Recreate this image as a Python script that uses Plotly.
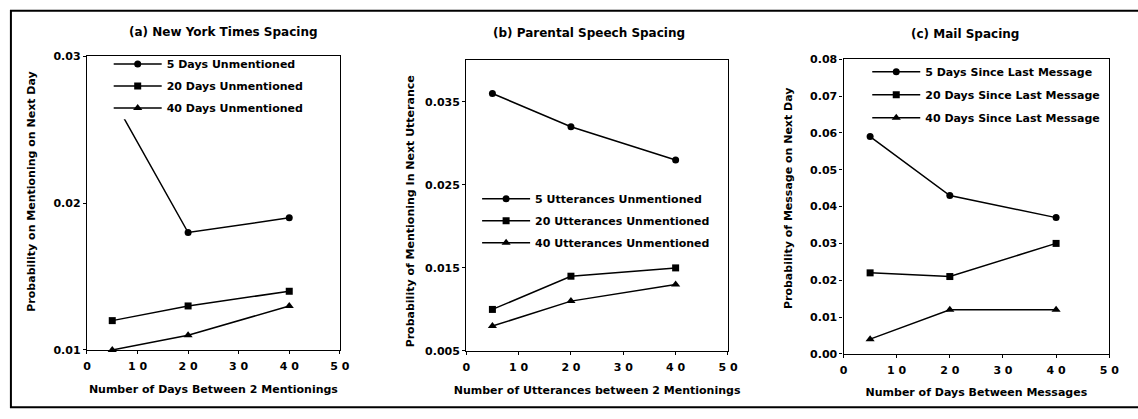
import plotly.graph_objects as go

W, H = 1138, 419

# ---------------- data ----------------
x_vals = [5, 20, 40]

# (a) New York Times Spacing
nyt_names = ["5 Days Unmentioned", "20 Days Unmentioned", "40 Days Unmentioned"]
nyt_5 = [0.0272, 0.018, 0.019]
nyt_20 = [0.012, 0.013, 0.014]
nyt_40 = [0.010, 0.011, 0.013]

# (b) Parental Speech Spacing
par_names = ["5 Utterances Unmentioned", "20 Utterances Unmentioned", "40 Utterances Unmentioned"]
par_5 = [0.036, 0.032, 0.028]
par_20 = [0.010, 0.014, 0.015]
par_40 = [0.008, 0.011, 0.013]

# (c) Mail Spacing
mail_names = ["5 Days Since Last Message", "20 Days Since Last Message", "40 Days Since Last Message"]
mail_5 = [0.059, 0.043, 0.037]
mail_20 = [0.022, 0.021, 0.030]
mail_40 = [0.004, 0.012, 0.012]

x_tickvals = [0, 10, 20, 30, 40, 50]
x_ticktext = ["0", "1 0", "2 0", "3 0", "4 0", "5 0"]

ya_tickvals = [0.01, 0.02, 0.03]
ya_ticktext = ["0.01", "0.02", "0.03"]
yb_tickvals = [0.005, 0.015, 0.025, 0.035]
yb_ticktext = ["0.005", "0.015", "0.025", "0.035"]
yc_tickvals = [0.00, 0.01, 0.02, 0.03, 0.04, 0.05, 0.06, 0.07, 0.08]
yc_ticktext = ["0.00", "0.01", "0.02", "0.03", "0.04", "0.05", "0.06", "0.07", "0.08"]

titles = ["(a) New York Times Spacing", "(b) Parental Speech Spacing", "(c) Mail Spacing"]
x_titles = ["Number of Days Between 2 Mentionings",
            "Number of Utterances between 2 Mentionings",
            "Number of Days Between Messages"]
y_titles = ["Probability on Mentioning on Next Day",
            "Probability of Mentioning In Next Utterance",
            "Probability of Message on Next Day"]

# ---------------- helpers ----------------
def px_x(p):
    return p / W

def px_y(p):
    return (H - p) / H

FONT = "DejaVu Sans"
symbols = ["circle", "square", "triangle-up"]
msizes = [7, 7, 8]

fig = go.Figure()

panels = [
    (nyt_names, [nyt_5, nyt_20, nyt_40], "x", "y", "legend"),
    (par_names, [par_5, par_20, par_40], "x2", "y2", "legend2"),
    (mail_names, [mail_5, mail_20, mail_40], "x3", "y3", "legend3"),
]
for pi, (names, series, xa, ya, lg) in enumerate(panels):
    for si, (nm, vals) in enumerate(zip(names, series)):
        fig.add_trace(go.Scatter(
            x=x_vals, y=vals, name=nm, mode="lines+markers",
            xaxis=xa, yaxis=ya, legend=lg, legendgroup=f"{pi}-{si}",
            line=dict(color="black", width=1.5),
            marker=dict(symbol=symbols[si], size=msizes[si], color="black"),
            cliponaxis=False,
        ))

# domains in pixels: (left, right, top, bottom)
dom = [(84, 340, 52, 355), (468, 733, 56, 356), (850, 1119, 55, 359)]
yranges = [[0.01, 0.03], [0.005, 0.04], [0.0, 0.08]]
yticks = [(ya_tickvals, ya_ticktext), (yb_tickvals, yb_ticktext), (yc_tickvals, yc_ticktext)]

tick_font = dict(family=FONT, size=11, color="black", weight="bold")
title_font = dict(family=FONT, size=11, color="black", weight="bold")
axis_common = dict(showline=True, mirror=True, linecolor="black", linewidth=1.3,
                   ticks="outside", ticklen=3, tickwidth=1, tickcolor="black",
                   showgrid=False, zeroline=False, tickfont=tick_font)

layout = dict(width=W, height=H, margin=dict(l=0, r=0, t=0, b=0),
              plot_bgcolor="white", paper_bgcolor="white", showlegend=True)

for i, (l, r, t, b) in enumerate(dom):
    sfx = "" if i == 0 else str(i + 1)
    layout["xaxis" + sfx] = dict(
        domain=[px_x(l), px_x(r)], range=[0, 50], anchor="y" + sfx,
        tickvals=x_tickvals, ticktext=x_ticktext, ticklabelstandoff=3,
        title=dict(text=x_titles[i], standoff=12, font=title_font),
        **axis_common)
    layout["yaxis" + sfx] = dict(
        domain=[px_y(b), px_y(t)], range=yranges[i], anchor="x" + sfx,
        tickvals=yticks[i][0], ticktext=yticks[i][1],
        **axis_common)

leg_font = dict(family=FONT, size=11, color="black", weight="bold")
leg_pos = [(106, 45, 3), (479, 184, 3), (874, 53, 4)]
for i, (lx, ly, gap) in enumerate(leg_pos):
    key = "legend" if i == 0 else f"legend{i + 1}"
    layout[key] = dict(x=px_x(lx), y=px_y(ly), xanchor="left", yanchor="top",
                       bgcolor="rgba(0,0,0,0)", borderwidth=0, font=leg_font,
                       itemwidth=48, tracegroupgap=gap, traceorder="grouped")

fig.update_layout(**layout)

title_pos = [(222, 27), (592, 28), (973, 29)]
for (tx, ty), txt in zip(title_pos, titles):
    fig.add_annotation(x=px_x(tx), y=px_y(ty), xref="paper", yref="paper",
                       text=txt, showarrow=False, xanchor="center", yanchor="middle",
                       font=dict(family=FONT, size=12, color="black", weight="bold"))

# y-axis titles (rotated)
ytitle_pos = [(27, 192), (411, 212), (795, 198)]
for (tx, ty), txt in zip(ytitle_pos, y_titles):
    fig.add_annotation(x=px_x(tx), y=px_y(ty), xref="paper", yref="paper",
                       text=txt, showarrow=False, textangle=-90,
                       xanchor="center", yanchor="middle", font=title_font)

# white legend backing in panel (a), inside the frame (the original legend box hides the line)
fig.add_shape(type="rect", xref="paper", yref="paper",
              x0=px_x(100), x1=px_x(330), y0=px_y(117), y1=px_y(54),
              line=dict(width=0), fillcolor="white", layer="above")

# outer frame
fig.add_shape(type="rect", xref="paper", yref="paper",
              x0=px_x(7), x1=px_x(1150), y0=px_y(414), y1=px_y(5),
              line=dict(color="black", width=2), fillcolor="rgba(0,0,0,0)", layer="below")

fig.write_html("out.html", config={"displayModeBar": False},
               post_script="document.body.style.margin='0';document.body.style.overflow='hidden';")
